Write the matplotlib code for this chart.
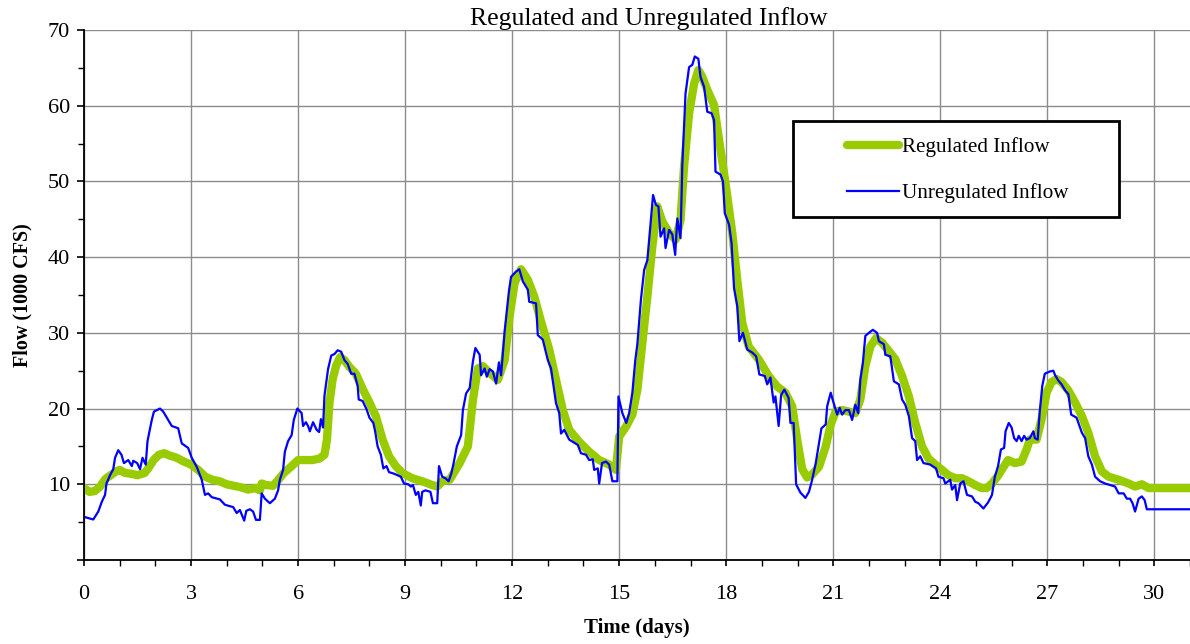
import matplotlib
matplotlib.use("Agg")
import matplotlib.pyplot as plt
from matplotlib.ticker import MultipleLocator
from matplotlib.patches import Rectangle

# regulated inflow (days, 1000 cfs)
reg_t = [0, 0.15, 0.3, 0.45, 0.6, 0.75, 0.9, 1.0, 1.15, 1.3, 1.5, 1.7, 1.8, 1.95, 2.1, 2.25,
         2.4, 2.6, 2.8, 3.0, 3.2, 3.4, 3.6, 3.8, 4.0, 4.2, 4.4, 4.6, 4.8, 4.93, 4.98, 5.1,
         5.3, 5.45, 5.6, 5.8, 6.0, 6.2, 6.4, 6.6, 6.74, 6.81, 6.88, 6.97, 7.07, 7.18, 7.3,
         7.44, 7.62, 7.81, 8.0, 8.18, 8.37, 8.55, 8.74, 8.92, 9.2, 9.48, 9.76, 9.9, 10.04,
         10.25, 10.53, 10.76, 10.9, 11.04, 11.18, 11.37, 11.6, 11.79, 11.93, 12.07, 12.25,
         12.44, 12.62, 12.81, 13.04, 13.23, 13.42, 13.6, 13.88, 14.16, 14.44, 14.72, 14.91,
         15.0, 15.19, 15.37, 15.51, 15.65, 15.79, 15.93, 16.07, 16.21, 16.4, 16.58, 16.72,
         16.82, 16.96, 17.1, 17.22, 17.33, 17.47, 17.66, 17.8, 17.98, 18.17, 18.31, 18.45,
         18.63, 18.91, 19.19, 19.43, 19.66, 19.85, 19.99, 20.13, 20.27, 20.41, 20.6, 20.79,
         20.93, 21.07, 21.25, 21.44, 21.62, 21.76, 21.9, 22.04, 22.2, 22.37, 22.56, 22.74,
         22.93, 23.12, 23.3, 23.49, 23.67, 23.86, 24.05, 24.23, 24.42, 24.61, 24.79, 24.98,
         25.16, 25.3, 25.45, 25.63, 25.72, 25.9, 26.09, 26.28, 26.42, 26.51, 26.7, 26.84,
         26.98, 27.12, 27.26, 27.4, 27.59, 27.78, 27.97, 28.15, 28.34, 28.53, 28.72, 29.0,
         29.28, 29.46, 29.65, 29.84, 31.0]
reg_q = [9.5, 9.0, 9.1, 9.7, 10.7, 11.2, 11.7, 11.9, 11.5, 11.4, 11.2, 11.5, 12.1, 13.2, 13.9, 14.1,
         13.8, 13.5, 13.0, 12.6, 11.9, 11.0, 10.6, 10.4, 10.0, 9.8, 9.6, 9.3, 9.5, 9.2, 10.1, 9.9,
         9.8, 10.6, 11.5, 12.3, 13.2, 13.2, 13.2, 13.4, 13.9, 15.9, 20.8, 23.9, 25.7, 26.8, 26.4,
         25.5, 24.6, 22.6, 20.8, 19.0, 15.9, 13.7, 12.4, 11.5, 10.8, 10.4, 9.9, 9.7, 10.4,
         10.6, 12.8, 15.0, 21.1, 25.3, 25.6, 24.7, 23.8, 26.4, 32.2, 36.6, 38.4,
         37.0, 34.8, 31.5, 27.8, 23.8, 19.8, 17.2, 15.6, 14.3, 13.2, 12.6, 11.9,
         16.3, 17.6, 19.2, 22.5, 28.7, 34.8, 41.4, 46.7, 44.7, 43.2, 42.3, 44.9,
         52.0, 59.0, 62.9, 64.7, 63.8, 62.1, 60.1, 55.5, 49.8, 43.2, 37.0, 31.3,
         28.2, 26.5, 24.3, 22.9, 22.1, 20.3, 15.9, 12.0, 10.9, 11.3, 12.3, 15.0,
         17.9, 19.6, 19.8, 19.6, 19.4, 21.2, 25.6, 28.2, 29.3, 28.7, 27.6, 26.5,
         24.3, 21.6, 18.1, 15.0, 13.4, 12.6, 11.9, 11.2, 10.8, 10.8, 10.4, 9.9,
         9.5, 9.5, 10.1, 11.2, 11.9, 13.2, 12.8, 13.0, 14.6, 15.9, 15.9, 18.6,
         22.1, 23.5, 23.9, 23.5, 22.4, 20.8, 19.0, 16.8, 13.7, 11.7, 11.0, 10.6,
         10.1, 9.7, 10.0, 9.5, 9.5]

# unregulated inflow (days, 1000 cfs)
unreg_t = [0, 0.26, 0.4, 0.5, 0.59, 0.63, 0.73, 0.82, 0.87, 0.96, 1.05, 1.12, 1.24, 1.34, 1.38,
           1.49, 1.57, 1.64, 1.73, 1.78, 1.9, 1.96, 2.13, 2.22, 2.32, 2.46, 2.64, 2.74, 2.92,
           3.02, 3.16, 3.3, 3.39, 3.48, 3.58, 3.81, 3.95, 4.09, 4.18, 4.28, 4.37, 4.49, 4.55,
           4.65, 4.74, 4.82, 4.93, 4.98, 5.07, 5.21, 5.35, 5.44, 5.49, 5.58, 5.63, 5.72, 5.82,
           5.88, 5.98, 6.1, 6.14, 6.22, 6.28, 6.33, 6.42, 6.52, 6.59, 6.64, 6.7, 6.74, 6.84,
           6.93, 7.02, 7.11, 7.21, 7.3, 7.39, 7.49, 7.58, 7.67, 7.7, 7.81, 7.92, 8.0, 8.11,
           8.16, 8.23, 8.32, 8.39, 8.48, 8.55, 8.69, 8.88, 8.97, 9.09, 9.16, 9.22, 9.3, 9.37,
           9.44, 9.48, 9.57, 9.71, 9.78, 9.9, 9.95, 10.04, 10.13, 10.22, 10.3, 10.36, 10.45,
           10.57, 10.62, 10.71, 10.81, 10.9, 10.97, 11.09, 11.13, 11.23, 11.29, 11.37, 11.46,
           11.55, 11.63, 11.69, 11.79, 11.91, 11.97, 12.11, 12.2, 12.3, 12.44, 12.48, 12.67,
           12.72, 12.86, 13.0, 13.09, 13.23, 13.32, 13.37, 13.46, 13.6, 13.84, 13.93, 14.07,
           14.16, 14.26, 14.3, 14.4, 14.44, 14.52, 14.63, 14.72, 14.81, 14.95, 14.98, 15.09,
           15.2, 15.28, 15.37, 15.45, 15.51, 15.61, 15.7, 15.79, 15.89, 15.95, 16.03, 16.1,
           16.16, 16.26, 16.3, 16.4, 16.49, 16.57, 16.63, 16.72, 16.77, 16.86, 16.96, 17.05,
           17.12, 17.22, 17.28, 17.38, 17.47, 17.59, 17.66, 17.7, 17.84, 17.91, 17.96, 18.08,
           18.15, 18.22, 18.31, 18.37, 18.47, 18.59, 18.73, 18.84, 18.93, 19.08, 19.15, 19.24,
           19.33, 19.38, 19.47, 19.54, 19.63, 19.75, 19.8, 19.89, 19.96, 20.08, 20.22, 20.32,
           20.41, 20.51, 20.6, 20.67, 20.79, 20.83, 20.93, 20.97, 21.07, 21.11, 21.18, 21.25,
           21.34, 21.44, 21.53, 21.62, 21.7, 21.76, 21.83, 21.9, 22.0, 22.11, 22.23, 22.28,
           22.42, 22.46, 22.6, 22.7, 22.84, 22.93, 23.02, 23.12, 23.21, 23.3, 23.35, 23.44,
           23.53, 23.72, 23.88, 23.95, 24.09, 24.14, 24.28, 24.33, 24.42, 24.47, 24.56, 24.65,
           24.75, 24.89, 24.98, 25.07, 25.21, 25.34, 25.45, 25.53, 25.62, 25.7, 25.79, 25.83,
           25.92, 26.0, 26.07, 26.14, 26.2, 26.28, 26.35, 26.42, 26.51, 26.61, 26.65, 26.73,
           26.79, 26.86, 26.93, 27.07, 27.17, 27.22, 27.31, 27.4, 27.5, 27.59, 27.67, 27.82,
           27.97, 28.06, 28.15, 28.25, 28.34, 28.48, 28.62, 28.9, 29.0, 29.14, 29.23, 29.32,
           29.39, 29.46, 29.56, 29.65, 29.73, 29.79, 31.0]
unreg_q = [5.7, 5.35, 6.4, 7.7, 8.6, 10.1, 11.2, 12.0, 13.5, 14.5, 13.9, 12.8, 13.2, 12.4, 13.1,
           12.8, 12.0, 13.5, 12.6, 15.7, 18.5, 19.6, 20.0, 19.6, 18.8, 17.7, 17.4, 15.4, 14.8,
           13.5, 12.3, 10.6, 8.6, 8.8, 8.3, 8.0, 7.3, 7.1, 7.0, 6.2, 6.6, 5.2, 6.5,
           6.7, 6.4, 5.3, 5.3, 8.8, 8.1, 7.5, 8.1, 9.2, 10.6, 11.9, 14.3, 15.7, 16.5,
           18.5, 20.0, 19.4, 17.7, 18.2, 17.7, 17.0, 18.2, 17.2, 16.9, 18.6, 17.5, 21.7, 25.2,
           27.0, 27.2, 27.7, 27.5, 26.4, 25.9, 24.6, 24.6, 23.0, 21.2, 21.0, 19.9, 18.8, 18.1,
           17.0, 15.0, 13.9, 12.1, 12.4, 11.6, 11.4, 11.0, 10.1, 10.0, 9.7, 9.9, 8.6, 9.0,
           7.2, 9.0, 9.2, 9.0, 7.5, 7.5, 12.4, 11.0, 10.8, 10.4, 11.5, 12.8, 15.0,
           16.5, 19.8, 22.0, 22.7, 26.2, 28.0, 27.1, 24.4, 25.3, 24.2, 25.2, 24.9,
           23.3, 26.1, 24.4, 30.2, 35.5, 37.4, 38.1, 38.4, 36.8, 35.7, 34.1, 33.9,
           29.7, 29.1, 26.4, 25.3, 20.7, 19.4, 16.7, 17.2, 15.9, 15.2, 14.1, 13.9,
           13.2, 13.3, 11.9, 12.1, 10.1, 12.8, 13.0, 12.6, 10.4, 10.4, 21.6, 19.4,
           18.1, 19.4, 22.1, 26.3, 28.5, 34.4, 38.3, 39.6, 44.9, 48.2, 46.9, 46.7,
           42.7, 43.8, 41.2, 43.6, 43.0, 40.3, 45.1, 42.5, 52.2, 61.6, 65.1, 65.4,
           66.5, 66.2, 63.8, 62.5, 59.2, 59.0, 58.1, 51.3, 50.9, 50.0, 45.8, 44.3,
           41.9, 35.9, 33.5, 28.9, 30.0, 27.8, 27.4, 26.9, 24.5, 24.3, 23.2, 24.1,
           20.8, 21.6, 17.7, 21.8, 22.5, 21.4, 18.1, 18.1, 10.0, 8.9, 8.2, 9.0,
           10.6, 12.8, 15.4, 17.4, 17.9, 20.3, 22.1, 21.4, 19.8, 19.2, 20.1, 19.2,
           19.8, 19.8, 18.5, 20.5, 19.4, 23.8, 26.0, 29.6, 30.0, 30.4, 30.0, 28.9,
           28.5, 27.1, 26.9, 23.6, 23.2, 21.2, 20.5, 19.0, 16.1, 15.7, 13.2, 13.7,
           12.8, 12.6, 12.1, 11.0, 10.8, 10.1, 10.6, 9.3, 9.9, 7.9, 10.1, 10.4,
           8.6, 8.4, 7.7, 7.5, 6.8, 7.6, 8.6, 11.0, 12.4, 14.6, 14.8, 17.0,
           18.1, 17.5, 16.1, 15.7, 16.4, 15.7, 16.4, 15.9, 16.1, 17.0, 16.1, 15.9,
           19.7, 23.0, 24.6, 24.9, 25.0, 24.4, 23.7, 23.2, 22.4, 21.9, 19.2, 18.8,
           16.8, 16.1, 13.7, 12.6, 11.0, 10.4, 10.1, 9.7, 8.8, 8.8, 8.1, 8.1,
           7.5, 6.4, 8.1, 8.4, 7.9, 6.7, 6.7]

x_ticks = list(range(0, 31, 3))
y_ticks = list(range(0, 71, 10))
y_labels = [''] + [str(v) for v in y_ticks[1:]]

plt.rcParams['font.family'] = ['Liberation Serif', 'DejaVu Serif']

fig = plt.figure(figsize=(11.9, 6.44), dpi=100)
ax = fig.add_axes([84 / 1190, 84 / 644, 1106 / 1190, 530 / 644])

green = '#99CC00'
blue = '#0000FF'

ax.plot(reg_t, reg_q, color=green, lw=6, solid_capstyle='round',
        solid_joinstyle='round', label='Regulated Inflow', zorder=3)
ax.plot(unreg_t, unreg_q, color=blue, lw=1.6, label='Unregulated Inflow', zorder=4)

ax.set_xlim(0, 31)
ax.set_ylim(0, 70)
ax.set_xticks(x_ticks)
ax.set_yticks(y_ticks)
ax.set_yticklabels(y_labels)
ax.xaxis.set_minor_locator(MultipleLocator(1))
ax.yaxis.set_minor_locator(MultipleLocator(5))
ax.grid(True, which='major', color='#8c8c8c', lw=1.0, zorder=0)
ax.set_axisbelow(True)

for s in ['top', 'right']:
    ax.spines[s].set_visible(False)
for s in ['left', 'bottom']:
    ax.spines[s].set_linewidth(1.3)
    ax.spines[s].set_zorder(5)

ax.tick_params(axis='y', which='major', length=5, width=1.2, labelsize=16, pad=5)
ax.tick_params(axis='y', which='minor', length=4, width=1.0)
ax.tick_params(axis='x', which='major', length=4, width=1.2, labelsize=16, pad=14)
ax.tick_params(axis='x', which='minor', length=4, width=1.0)

ax.set_title('Regulated and Unregulated Inflow', fontsize=18.5, pad=2, x=0.511)
ax.set_xlabel('Time (days)', fontsize=15, fontweight='bold', labelpad=10)
ax.set_ylabel('Flow (1000 CFS)', fontsize=14.5, fontweight='bold', labelpad=11)

leg = ax.legend(loc='upper left', bbox_to_anchor=(0.680, 0.818), frameon=False,
                fontsize=15.2, handlelength=2.5, handletextpad=0.1, labelspacing=1.25,
                borderpad=0)
box = Rectangle((0.641, 0.647), 0.295, 0.181, transform=ax.transAxes, fill=True,
                facecolor='white', edgecolor='black', lw=2, zorder=6)
ax.add_patch(box)
leg.set_zorder(7)

fig.savefig('out.png', dpi=100)
